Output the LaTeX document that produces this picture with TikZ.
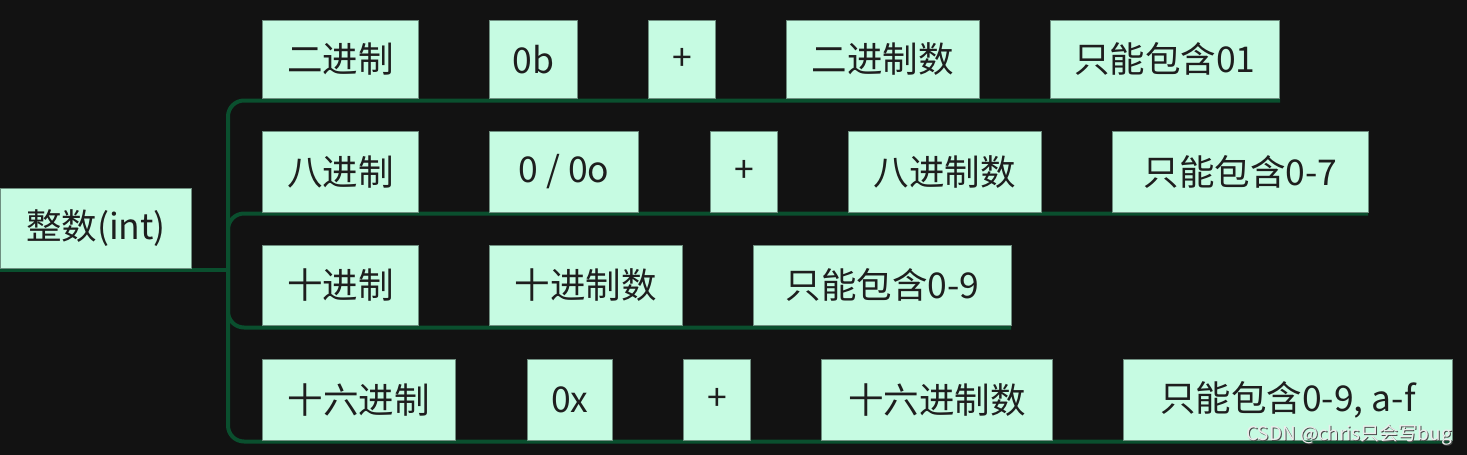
\documentclass[tikz,border=0pt]{standalone}
\usepackage{fontspec}
\setmainfont{Noto Sans CJK SC}
\newfontfamily\wmfont{Noto Sans CJK SC}
\definecolor{bg}{HTML}{121212}
\definecolor{mint}{HTML}{C6FBE2}
\definecolor{edge}{HTML}{0A4F2E}
\definecolor{boxline}{HTML}{6E8F80}
\definecolor{ink}{HTML}{1E1E1E}
\begin{document}
\begin{tikzpicture}[x=1pt,y=-1pt,
  box/.style={draw=boxline, line width=0.8pt, fill=mint, text=ink, anchor=north west,
    inner sep=0pt, font=\fontsize{35.5}{38}\selectfont},
  branch/.style={draw=edge, line width=4pt, rounded corners=16pt},
  wmstyle/.style={anchor=south east, inner sep=0pt, font=\wmfont\fontsize{19}{20}\selectfont}]
\fill[bg] (0,0) rectangle (1467,455);
\useasboundingbox (0,0) rectangle (1467,455);
% hub coordinates
\coordinate (hub) at (228,270);
\coordinate (r0) at (0,270);
\coordinate (e1) at (1280,100.5);
\coordinate (e2) at (1368,213.5);
\coordinate (e3) at (1011,327.5);
\coordinate (e4) at (1452,441.5);
\draw[branch] (r0) -- (hub);
\draw[branch] (hub) -- (hub |- e1) -- (e1);
\draw[branch] (hub) -- (hub |- e2) -- (e2);
\draw[branch] (hub) -- (hub |- e3) -- (e3);
\draw[branch] (hub) -- (hub |- e4) -- (e4);
% root
\node[box, minimum width=191, minimum height=80] (root) at (0,188) {整数(int)};
% row 1
\node[box, minimum width=156, minimum height=78] (a1) at (262,20) {二进制};
\node[box, minimum width=88, minimum height=78] (a2) at (489,20) {0b};
\node[box, minimum width=67, minimum height=78] (a3) at (648,20) {+};
\node[box, minimum width=193, minimum height=78] (a4) at (786,20) {二进制数};
\node[box, minimum width=229, minimum height=78] (a5) at (1050,20) {只能包含01};
% row 2
\node[box, minimum width=156, minimum height=81] (b1) at (262,131) {八进制};
\node[box, minimum width=149, minimum height=81] (b2) at (489,131) {0 / 0o};
\node[box, minimum width=67, minimum height=81] (b3) at (710,131) {+};
\node[box, minimum width=193, minimum height=81] (b4) at (848,131) {八进制数};
\node[box, minimum width=256, minimum height=81] (b5) at (1112,131) {只能包含0-7};
% row 3
\node[box, minimum width=156, minimum height=80] (c1) at (262,245) {十进制};
\node[box, minimum width=193, minimum height=80] (c2) at (489,245) {十进制数};
\node[box, minimum width=258, minimum height=80] (c3) at (753,245) {只能包含0-9};
% row 4
\node[box, minimum width=193, minimum height=81] (d1) at (262,359) {十六进制};
\node[box, minimum width=85, minimum height=81] (d2) at (527,359) {0x};
\node[box, minimum width=67, minimum height=81] (d3) at (683,359) {+};
\node[box, minimum width=231, minimum height=81] (d4) at (821,359) {十六进制数};
\node[box, minimum width=329, minimum height=81] (d5) at (1123,359) {只能包含0-9, a-f};
% watermark (shadow + text)
\node[wmstyle, text=black!70] (wms) at (1453,446) {CSDN @chris只会写bug};
\node[wmstyle, text=white!85!gray] (wm) at (1452,445) {CSDN @chris只会写bug};
\end{tikzpicture}
\end{document}
